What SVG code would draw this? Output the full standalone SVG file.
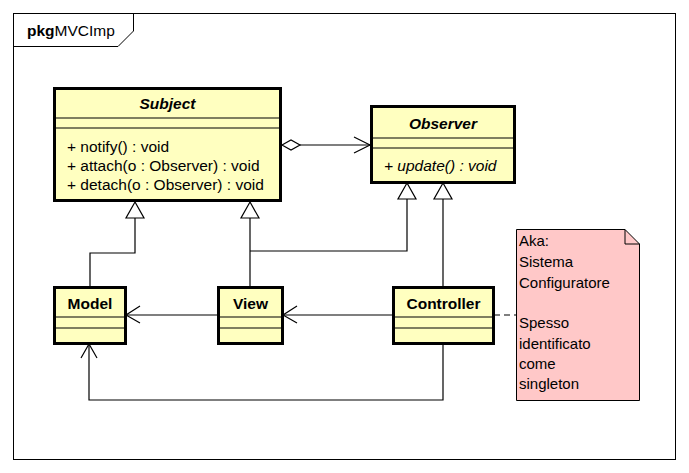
<svg xmlns="http://www.w3.org/2000/svg" width="689" height="473" viewBox="0 0 689 473">
<defs>
<style>
text{font-family:"Liberation Sans",Arial,sans-serif;font-size:15px;fill:#000}
.m{font-size:15.5px}
.b{font-weight:bold;font-size:15.5px}
.i{font-style:italic;font-size:15.5px}
.bi{font-weight:bold;font-style:italic;font-size:15.5px}
.cls{fill:#FFFFC0;stroke:#000;stroke-width:3}
.sep{stroke:#000;stroke-width:1.2;fill:none}
.ln{stroke:#000;stroke-width:1.2;fill:none}
.tri{fill:#fff;stroke:#000;stroke-width:1.2}
</style>
</defs>
<rect x="0" y="0" width="689" height="473" fill="#fff"/>
<g id="frame">
<rect x="13.5" y="13.5" width="662" height="446" fill="none" stroke="#000" stroke-width="1"/>
<path d="M13.5 46.5 H118 L133.5 31 V13.5" fill="none" stroke="#000" stroke-width="1"/>
<text x="27" y="36" style="font-size:15.5px"><tspan style="font-weight:bold">pkg</tspan>MVCImp</text>
</g>
<g id="connectors">
<path class="ln" d="M90 286 V253 H135 V218"/>
<path class="tri" d="M135 202 L126 218 H144 Z"/>
<path class="ln" d="M250 286 V218"/>
<path class="tri" d="M250 202 L241 218 H259 Z"/>
<path class="ln" d="M250 251 H407 V199"/>
<path class="tri" d="M407 183 L398 199 H416 Z"/>
<path class="ln" d="M443 286 V199"/>
<path class="tri" d="M443 183 L434 199 H452 Z"/>
<path class="ln" d="M300 145 H370"/>
<path class="tri" d="M282 145 L291 140 L300 145 L291 150 Z"/>
<path class="ln" d="M354 137 L370 145 L354 153"/>
<path class="ln" d="M217 315 H126"/>
<path class="ln" d="M140 306 L126 315 L140 323"/>
<path class="ln" d="M392 315 H283"/>
<path class="ln" d="M297 306 L283 315 L297 323"/>
<path class="ln" d="M443 344 V400 H89 V344"/>
<path class="ln" d="M81 358 L89 344 L97 358"/>
<path class="ln" d="M494 315 H516" stroke-dasharray="6 4"/>
</g>
<g id="Subject">
<rect class="cls" x="54.5" y="88.5" width="226" height="112"/>
<line class="sep" x1="54" y1="118" x2="281" y2="118"/>
<line class="sep" x1="54" y1="128" x2="281" y2="128"/>
<text class="bi" x="167.5" y="109" text-anchor="middle">Subject</text>
<text class="m" x="67" y="152">+ notify() : void</text>
<text class="m" x="67" y="171">+ attach(o : Observer) : void</text>
<text class="m" x="67" y="190">+ detach(o : Observer) : void</text>
</g>
<g id="Observer">
<rect class="cls" x="371.5" y="106.5" width="143" height="76"/>
<line class="sep" x1="371" y1="138" x2="515" y2="138"/>
<line class="sep" x1="371" y1="148" x2="515" y2="148"/>
<text class="bi" x="443" y="129" text-anchor="middle">Observer</text>
<text class="i" x="384" y="171">+ update() : void</text>
</g>
<g id="Model">
<rect class="cls" x="54.5" y="287.5" width="71" height="56"/>
<line class="sep" x1="54" y1="317" x2="126" y2="317"/>
<line class="sep" x1="54" y1="328" x2="126" y2="328"/>
<text class="b" x="90" y="309" text-anchor="middle">Model</text>
</g>
<g id="View">
<rect class="cls" x="218.5" y="287.5" width="64" height="56"/>
<line class="sep" x1="218" y1="317" x2="283" y2="317"/>
<line class="sep" x1="218" y1="328" x2="283" y2="328"/>
<text class="b" x="250.5" y="309" text-anchor="middle">View</text>
</g>
<g id="Controller">
<rect class="cls" x="393.5" y="287.5" width="100" height="56"/>
<line class="sep" x1="393" y1="317" x2="494" y2="317"/>
<line class="sep" x1="393" y1="328" x2="494" y2="328"/>
<text class="b" x="443.5" y="309" text-anchor="middle">Controller</text>
</g>
<g id="note">
<path d="M516.5 229.5 H625 L639.5 244 V400.5 H516.5 Z" fill="#FFC8C8" stroke="#000" stroke-width="1"/>
<path d="M625 229.5 V244 H639.5" fill="none" stroke="#000" stroke-width="1"/>
<text x="519" y="246">Aka:</text>
<text x="519" y="267">Sistema</text>
<text x="519" y="288">Configuratore</text>
<text x="519" y="328">Spesso</text>
<text x="519" y="349">identificato</text>
<text x="519" y="369">come</text>
<text x="519" y="389">singleton</text>
</g>
</svg>
